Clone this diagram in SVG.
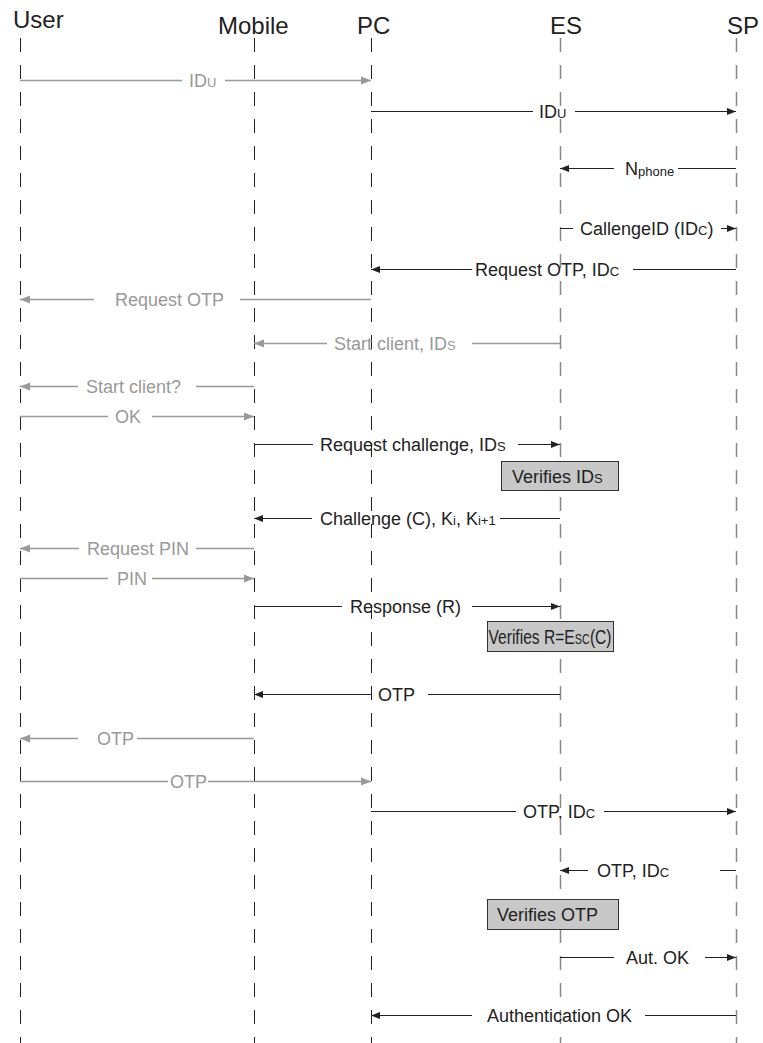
<svg xmlns="http://www.w3.org/2000/svg" width="763" height="1043" viewBox="0 0 763 1043">
  <style>
    .head { font-family: "Liberation Sans", Arial, sans-serif; font-size: 24px; fill: #222; }
    .life { stroke: #222; stroke-width: 1; stroke-dasharray: 14 13; fill: none; }
    .life2 { stroke: #888; stroke-width: 1.5; stroke-dasharray: 14 13; fill: none; }
    .msg { stroke: #222; stroke-width: 1; fill: none; }
    .msg-g { stroke: #999; stroke-width: 1.3; fill: none; }
    .lbl { font-family: "Liberation Sans", Arial, sans-serif; font-size: 18px; fill: #222; }
    .lbl-g { font-family: "Liberation Sans", Arial, sans-serif; font-size: 18px; fill: #999; }
    .sub { font-size: 13px; }
    .box { fill: #c8c8c8; stroke: #333; stroke-width: 1; }
  </style>
  <defs>
    <marker id="ah" viewBox="0 0 10 10" refX="10" refY="5" markerWidth="12" markerHeight="9" markerUnits="userSpaceOnUse" orient="auto">
      <path d="M0,1 L10,5 L0,9 Z" fill="#222"/>
    </marker>
    <marker id="ah-g" viewBox="0 0 10 10" refX="10" refY="5" markerWidth="13" markerHeight="10" markerUnits="userSpaceOnUse" orient="auto">
      <path d="M0,1 L10,5 L0,9 Z" fill="#999"/>
    </marker>
  </defs>
  <rect width="763" height="1043" fill="#fff"/>

  <!-- participants -->
  <g id="user"><text class="head" x="13" y="28">User</text><line class="life" x1="20.5" y1="38" x2="20.5" y2="1043"/></g>
  <g id="mobile"><text class="head" x="218" y="34">Mobile</text><line class="life" x1="254.5" y1="38" x2="254.5" y2="1043"/></g>
  <g id="pc"><text class="head" x="357" y="34">PC</text><line class="life" x1="371.5" y1="38" x2="371.5" y2="1043"/></g>
  <g id="es"><text class="head" x="550" y="34">ES</text><line class="life2" x1="560.5" y1="38" x2="560.5" y2="1043"/></g>
  <g id="sp"><text class="head" x="727" y="34">SP</text><line class="life2" x1="736.5" y1="38" x2="736.5" y2="1043"/></g>

  <!-- processing boxes on the ES lifeline -->
  <g id="verify-ids"><rect class="box" x="501.5" y="461.5" width="117" height="29"/><text class="lbl" x="512" y="482.5">Verifies ID<tspan class="sub">S</tspan></text></g>
  <g id="verify-r"><rect class="box" x="487.5" y="621.5" width="126" height="30"/><text class="lbl" style="font-size:20px" transform="translate(488.5,644) scale(0.78,1)">Verifies R=E<tspan style="font-size:14px">SC</tspan>(C)</text></g>
  <g id="verify-otp"><rect class="box" x="487.5" y="899.5" width="131" height="30"/><text class="lbl" x="497" y="921">Verifies OTP</text></g>

  <!-- messages -->
  <g id="connectors">
    <!-- User -> PC : IDu -->
    <path class="msg-g" d="M20,80.5 H182 M225,80.5 H371" marker-end="url(#ah-g)"/>
    <text class="lbl-g" x="189" y="87">ID<tspan class="sub">U</tspan></text>
    <!-- PC -> SP : IDu -->
    <path class="msg" d="M371,111.5 H533 M575,111.5 H736" marker-end="url(#ah)"/>
    <text class="lbl" x="539" y="118">ID<tspan class="sub">U</tspan></text>
    <!-- SP -> ES : Nphone -->
    <path class="msg" d="M736,168.5 H678"/>
    <path class="msg" d="M614,168.5 H560" marker-end="url(#ah)"/>
    <text class="lbl" x="625" y="175">N<tspan class="sub" dy="1">phone</tspan></text>
    <!-- ES -> SP : CallengeID -->
    <path class="msg" d="M560,228.5 H573"/>
    <path class="msg" d="M721,228.5 H736" marker-end="url(#ah)"/>
    <text class="lbl" x="580" y="235">CallengeID (ID<tspan class="sub">C</tspan>)</text>
    <!-- SP -> PC : Request OTP, IDc -->
    <path class="msg" d="M736,269.5 H633"/>
    <path class="msg" d="M472,269.5 H371" marker-end="url(#ah)"/>
    <text class="lbl" x="475" y="276">Request OTP, ID<tspan class="sub">C</tspan></text>
    <!-- PC -> User : Request OTP -->
    <path class="msg-g" d="M371,299.5 H240"/>
    <path class="msg-g" d="M94,299.5 H20" marker-end="url(#ah-g)"/>
    <text class="lbl-g" x="115" y="306">Request OTP</text>
    <!-- ES -> Mobile : Start client, IDs -->
    <path class="msg-g" d="M560,343.5 H472"/>
    <path class="msg-g" d="M327,343.5 H254" marker-end="url(#ah-g)"/>
    <text class="lbl-g" x="334" y="350">Start client, ID<tspan class="sub">S</tspan></text>
    <!-- Mobile -> User : Start client? -->
    <path class="msg-g" d="M254,386.5 H196"/>
    <path class="msg-g" d="M78,386.5 H20" marker-end="url(#ah-g)"/>
    <text class="lbl-g" x="86" y="393">Start client?</text>
    <!-- User -> Mobile : OK -->
    <path class="msg-g" d="M20,416.5 H108 M152,416.5 H254" marker-end="url(#ah-g)"/>
    <text class="lbl-g" x="115" y="423">OK</text>
    <!-- Mobile -> ES : Request challenge, IDs -->
    <path class="msg" d="M254,444.5 H313 M518,444.5 H560" marker-end="url(#ah)"/>
    <text class="lbl" x="320" y="451">Request challenge, ID<tspan class="sub">S</tspan></text>
    <!-- ES -> Mobile : Challenge (C), Ki, Ki+1 -->
    <path class="msg" d="M560,518.5 H500"/>
    <path class="msg" d="M312,518.5 H254" marker-end="url(#ah)"/>
    <text class="lbl" x="320" y="525">Challenge (C), K<tspan class="sub">i</tspan>, K<tspan class="sub">i+1</tspan></text>
    <!-- Mobile -> User : Request PIN -->
    <path class="msg-g" d="M254,548.5 H196"/>
    <path class="msg-g" d="M79,548.5 H20" marker-end="url(#ah-g)"/>
    <text class="lbl-g" x="87" y="555">Request PIN</text>
    <!-- User -> Mobile : PIN -->
    <path class="msg-g" d="M20,578.5 H108 M152,578.5 H254" marker-end="url(#ah-g)"/>
    <text class="lbl-g" x="117" y="585">PIN</text>
    <!-- Mobile -> ES : Response (R) -->
    <path class="msg" d="M254,606.5 H342 M472,606.5 H560" marker-end="url(#ah)"/>
    <text class="lbl" x="350" y="613">Response (R)</text>
    <!-- ES -> Mobile : OTP -->
    <path class="msg" d="M560,694.5 H428"/>
    <path class="msg" d="M371,694.5 H254" marker-end="url(#ah)"/>
    <text class="lbl" x="378" y="701">OTP</text>
    <!-- Mobile -> User : OTP -->
    <path class="msg-g" d="M254,738.5 H137"/>
    <path class="msg-g" d="M78,738.5 H20" marker-end="url(#ah-g)"/>
    <text class="lbl-g" x="97" y="745">OTP</text>
    <!-- User -> PC : OTP -->
    <path class="msg-g" d="M20,781.5 H168 M208,781.5 H371" marker-end="url(#ah-g)"/>
    <text class="lbl-g" x="170" y="788">OTP</text>
    <!-- PC -> SP : OTP, IDc -->
    <path class="msg" d="M371,811.5 H516 M604,811.5 H736" marker-end="url(#ah)"/>
    <text class="lbl" x="523" y="818">OTP, ID<tspan class="sub">C</tspan></text>
    <!-- SP -> ES : OTP, IDc -->
    <path class="msg" d="M736,870.5 H720"/>
    <path class="msg" d="M588,870.5 H560" marker-end="url(#ah)"/>
    <text class="lbl" x="597" y="877">OTP, ID<tspan class="sub">C</tspan></text>
    <!-- ES -> SP : Aut. OK -->
    <path class="msg" d="M560,957.5 H614 M705,957.5 H736" marker-end="url(#ah)"/>
    <text class="lbl" x="626" y="964">Aut. OK</text>
    <!-- SP -> PC : Authentication OK -->
    <path class="msg" d="M736,1015.5 H645"/>
    <path class="msg" d="M472,1015.5 H371" marker-end="url(#ah)"/>
    <text class="lbl" x="487" y="1022">Authentication OK</text>
  </g>
</svg>
